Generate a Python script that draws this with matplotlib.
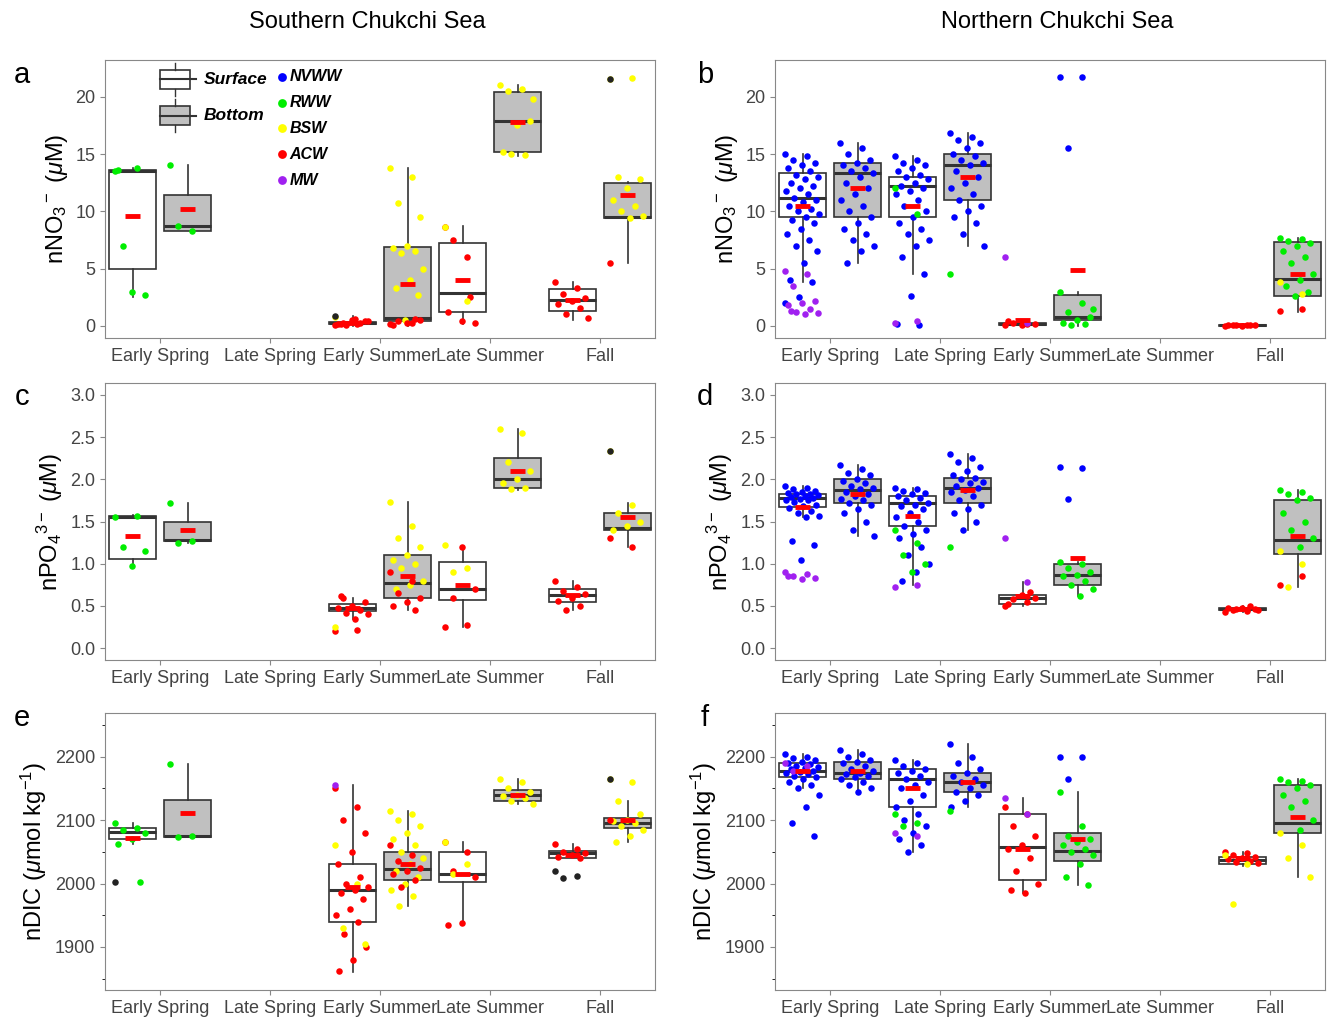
import matplotlib.pyplot as plt
from matplotlib.patches import Rectangle

plt.rcParams['font.family'] = ['Liberation Sans', 'DejaVu Sans']
plt.rcParams['mathtext.fontset'] = 'custom'
plt.rcParams['mathtext.rm'] = 'Liberation Sans'
plt.rcParams['mathtext.it'] = 'Liberation Sans:italic'

cats = ["Early Spring", "Late Spring", "Early Summer", "Late Summer", "Fall"]
col = {'b': '#0000ff', 'g': '#00ee00', 'y': '#ffff00', 'r': '#ff0000', 'p': '#a020f0', 'k': '#222222'}

# box stats: (category, kind s=surface/b=bottom, q1, med, q3, whislo, whishi, mean)
a_box = [(1,'s',5,13.5,13.6,2.5,13.8,9.6),(1,'b',8.3,8.7,11.4,8.3,14,10.2),
         (3,'s',0.2,0.3,0.35,0,0.9,0.3),(3,'b',0.4,0.7,6.9,0,13.8,3.7),
         (4,'s',1.2,2.9,7.2,0.2,8.7,4.0),(4,'b',15.2,17.9,20.4,14.8,21,17.8),
         (5,'s',1.3,2.3,3.2,0.5,3.8,2.3),(5,'b',9.4,9.5,12.5,5.5,12.6,11.4)]
a_pts = [(1,'s','g',[13.5,13.8,7,2.7,3.0,13.6]),(1,'b','g',[14,8.3,8.7]),
         (3,'s','r',[0.1,0.2,0.3,0.4,0.5,0.2,0.3,0.1,0.4,0.6,0.2]),(3,'s','y',[0.8]),(3,'s','k',[0.9]),
         (3,'b','y',[13.8,13,10.7,9.5,7,6.8,6.5,6.4,5,4,3.3,2.7,0.5]),(3,'b','r',[0.2,0.3,0.4,0.5,0.3,0.1,0.6]),
         (4,'s','r',[8.6,6,7.5,0.3,0.4,1.2,2.5]),(4,'s','y',[8.6,2.2]),
         (4,'b','y',[21,20.7,20.5,17.9,17.5,15.2,14.9,15,19.8]),
         (5,'s','r',[3.8,3.3,2.8,2.4,2.2,1.9,1.6,1,0.7]),
         (5,'b','y',[21.5,21.6,13,12.8,12,11,10.5,10,9.6,9.4]),(5,'b','r',[5.5]),(5,'b','k',[21.5])]

b_box = [(1,'s',9.5,11.2,13.3,3.8,15,10.5),(1,'b',9.5,13.3,14.2,5.5,16,12.0),
         (2,'s',9.5,12.2,13.0,4.5,14.8,10.5),(2,'b',11,14,15,7,16.8,13.0),
         (3,'s',0.1,0.2,0.3,0,0.5,0.5),(3,'b',0.5,0.8,2.7,0,3,4.9),
         (5,'s',0,0.05,0.1,0,0.15,0.05),(5,'b',2.6,4.1,7.3,1.2,7.7,4.5)]
b_pts = [(1,'s','b',[15,14.8,14.5,14.2,14,13.8,13.5,13.2,13,12.8,12.5,12.2,12,11.8,11.5,11.2,11,10.8,10.5,10.2,10,9.8,9.5,9.2,9,8.5,8,7.5,7,6.5,5.5,4,3.8,2.5,2]),
         (1,'s','p',[4.8,4.5,3.5,2.2,2,1.8,1.5,1.2,1.1,1.0,1.3]),
         (1,'b','b',[16,15.5,15,14.5,14.2,14,13.8,13.5,13.3,13,12.5,12,11.5,11,10.5,10,9.5,9,8.5,8,7.5,7,6.5,5.5]),
         (2,'s','b',[14.8,14.5,14.2,14,13.8,13.5,13.2,13,12.8,12.5,12.2,12,11.8,11.5,11,10.5,10,9.5,9,8.5,8,7.5,7,6,4.5,2.6,0.2,0.1]),
         (2,'s','p',[0.3,0.4]),(2,'s','g',[12,9.8]),
         (2,'b','b',[16.8,16.5,16.2,16,15.5,15,14.8,14.5,14.2,14,13.5,13,12.5,12,11.5,11,10.5,10,9.5,9,8,7]),(2,'b','g',[4.5]),
         (3,'s','r',[0.1,0.2,0.3,0.2,0.1,0.4]),(3,'s','p',[6,0.3]),
         (3,'b','g',[3,2,1.2,0.8,0.5,0.3,0.2,0.1,1.5]),(3,'b','b',[21.7,21.7,15.5]),
         (5,'s','r',[0,0.05,0.1,0.05,0,0.1,0.05,0.1]),
         (5,'b','g',[7.7,7.6,7.4,7.2,7,6.5,6,5.5,4.5,4,3.5,3,2.6]),(5,'b','y',[3.8,2.8]),(5,'b','r',[1.3,1.5])]

c_box = [(1,'s',1.06,1.55,1.57,0.95,1.58,1.33),(1,'b',1.27,1.28,1.49,1.25,1.72,1.4),
         (3,'s',0.44,0.48,0.52,0.35,0.6,0.48),(3,'b',0.6,0.77,1.1,0.45,1.73,0.85),
         (4,'s',0.57,0.7,1.02,0.25,1.2,0.75),(4,'b',1.9,2.0,2.25,1.87,2.6,2.1),
         (5,'s',0.55,0.63,0.7,0.45,0.8,0.63),(5,'b',1.4,1.42,1.6,1.2,1.72,1.55)]
c_pts = [(1,'s','g',[1.55,1.57,1.2,1.15,0.97]),(1,'b','g',[1.72,1.27,1.25]),
         (3,'s','r',[0.2,0.22,0.6,0.55,0.5,0.48,0.45,0.42,0.4,0.35,0.62]),(3,'s','y',[0.25]),
         (3,'b','y',[1.73,1.45,1.3,1.2,1.1,1.05,1.0,0.95,0.8,0.75,0.7]),(3,'b','r',[0.9,0.8,0.65,0.6,0.55,0.5,0.45]),
         (4,'s','r',[0.25,0.27,0.6,0.7,1.2]),(4,'s','y',[1.22,0.95,0.9]),
         (4,'b','y',[2.6,2.55,2.2,2.1,2.0,1.95,1.9,1.88]),
         (5,'s','r',[0.8,0.72,0.68,0.64,0.6,0.56,0.5,0.45]),
         (5,'b','y',[2.33,1.7,1.6,1.5,1.45,1.4]),(5,'b','r',[1.3,1.2]),(5,'b','k',[2.33])]

d_box = [(1,'s',1.67,1.78,1.82,1.55,1.92,1.67),(1,'b',1.72,1.87,2.0,1.33,2.17,1.82),
         (2,'s',1.45,1.72,1.8,0.75,1.9,1.57),(2,'b',1.72,1.9,2.02,1.4,2.3,1.87),
         (3,'s',0.52,0.59,0.63,0.5,0.78,0.62),(3,'b',0.75,0.87,1.0,0.62,1.02,1.07),
         (5,'s',0.45,0.46,0.48,0.43,0.5,0.46),(5,'b',1.12,1.28,1.75,0.72,1.87,1.33)]
d_pts = [(1,'s','b',[1.92,1.9,1.88,1.86,1.85,1.84,1.83,1.82,1.81,1.8,1.79,1.78,1.77,1.76,1.75,1.73,1.7,1.68,1.66,1.63,1.6,1.57,1.55,1.27,1.22,1.05]),
         (1,'s','p',[0.9,0.88,0.85,0.83,0.82,0.86]),
         (1,'b','b',[2.17,2.12,2.08,2.05,2.0,1.98,1.95,1.92,1.9,1.88,1.85,1.82,1.8,1.77,1.75,1.72,1.7,1.65,1.6,1.5,1.4,1.33]),
         (2,'s','b',[1.9,1.88,1.86,1.84,1.82,1.8,1.78,1.75,1.72,1.7,1.68,1.65,1.6,1.55,1.5,1.45,1.4,1.35,1.3,1.2,1.1,1.0,0.9,0.8]),
         (2,'s','g',[1.4,1.25,1.1,1.0,0.9]),(2,'s','p',[0.72,0.75]),
         (2,'b','b',[2.3,2.25,2.2,2.15,2.1,2.05,2.02,2.0,1.97,1.95,1.92,1.9,1.87,1.85,1.8,1.75,1.7,1.65,1.6,1.5,1.4]),(2,'b','g',[1.2]),
         (3,'s','r',[0.5,0.55,0.58,0.6,0.63,0.52,0.66]),(3,'s','p',[1.3,0.78]),
         (3,'b','g',[1.02,1.0,0.95,0.9,0.87,0.85,0.8,0.75,0.7,0.62]),(3,'b','b',[2.15,2.13,1.77]),
         (5,'s','r',[0.43,0.44,0.45,0.46,0.47,0.48,0.5,0.46,0.45]),
         (5,'b','g',[1.87,1.85,1.82,1.78,1.75,1.6,1.5,1.4,1.3,1.2]),(5,'b','y',[1.15,1.0,0.72]),(5,'b','r',[0.75,0.85])]

e_box = [(1,'s',2070,2082,2087,2062,2095,2072),(1,'b',2073,2075,2131,2073,2188,2111),
         (3,'s',1940,1990,2030,1860,2155,1995),(3,'b',2005,2023,2050,1965,2115,2030),
         (4,'s',2003,2015,2050,1935,2065,2015),(4,'b',2130,2140,2147,2125,2165,2140),
         (5,'s',2040,2048,2052,2040,2062,2045),(5,'b',2087,2095,2103,2065,2130,2100)]
e_pts = [(1,'s','g',[2095,2088,2085,2080,2070,2062,2003]),(1,'s','k',[2003]),(1,'b','g',[2188,2075,2073]),
         (3,'s','r',[2150,2120,2100,2080,2050,2030,2010,2000,1995,1990,1985,1975,1960,1950,1940,1920,1900,1880,1862]),
         (3,'s','y',[2060,2000,1930,1905]),(3,'s','p',[2155]),
         (3,'b','y',[2115,2110,2100,2090,2080,2070,2060,2050,2040,2030,2020,2010,2000,1990,1980,1965]),
         (3,'b','r',[2060,2045,2035,2025,2020,2015,2005,1995]),
         (4,'s','r',[2065,2050,2020,2010,1938,1935]),(4,'s','y',[2065,2030,2015]),
         (4,'b','y',[2165,2160,2150,2145,2140,2138,2135,2130,2125]),
         (5,'s','r',[2062,2055,2050,2048,2045,2042,2040]),(5,'s','k',[2020,2012,2008]),
         (5,'b','y',[2165,2160,2130,2110,2100,2098,2095,2090,2085,2075,2065]),(5,'b','r',[2100]),(5,'b','k',[2165])]

f_box = [(1,'s',2168,2178,2190,2150,2205,2178),(1,'b',2165,2175,2192,2145,2210,2178),
         (2,'s',2120,2165,2180,2050,2195,2150),(2,'b',2145,2160,2175,2120,2220,2160),
         (3,'s',2005,2058,2110,1985,2135,2055),(3,'b',2035,2052,2080,1998,2145,2070),
         (5,'s',2030,2037,2042,2028,2050,2040),(5,'b',2080,2095,2155,2010,2165,2105)]
f_pts = [(1,'s','b',[2205,2200,2198,2195,2192,2190,2188,2186,2184,2182,2180,2178,2176,2174,2172,2170,2168,2165,2160,2155,2150,2140,2120,2095,2075]),
         (1,'s','p',[2190,2185,2178]),
         (1,'b','b',[2210,2205,2200,2195,2192,2190,2185,2180,2178,2175,2172,2170,2168,2165,2160,2155,2150,2145]),
         (2,'s','b',[2195,2190,2185,2180,2178,2175,2170,2165,2160,2155,2150,2140,2130,2120,2110,2100,2090,2080,2070,2060,2050]),
         (2,'s','g',[2110,2095,2090]),(2,'s','p',[2080,2075]),
         (2,'b','b',[2220,2200,2190,2180,2175,2170,2165,2160,2155,2150,2145,2140,2130,2120]),(2,'b','g',[2115]),
         (3,'s','r',[2120,2110,2090,2075,2060,2055,2040,2020,2000,1985,1990]),(3,'s','p',[2135,2110]),
         (3,'b','g',[2145,2090,2075,2070,2065,2060,2055,2050,2045,2030,2010,1998]),(3,'b','b',[2200,2200,2165]),
         (5,'s','r',[2050,2048,2045,2042,2040,2038,2036,2034,2032]),(5,'s','y',[2045,2030,1968]),
         (5,'b','g',[2165,2162,2160,2155,2150,2140,2130,2120,2100,2085]),(5,'b','y',[2080,2060,2040,2010])]

W, H = 1328, 1017
fig = plt.figure(figsize=(W/100, H/100), dpi=100)

def make_ax(x0, top, bot):
    return fig.add_axes([x0/W, 1-bot/H, 550/W, (bot-top)/H])

def draw(ax, boxes, pts, ylim, yticks, ylabel):
    off = {'s': -0.25, 'b': 0.25}
    for c, k, q1, med, q3, lo, hi, mean in boxes:
        x = c + off[k]
        fc = 'white' if k == 's' else '#c0c0c0'
        ax.bxp([dict(q1=q1, med=med, q3=q3, whislo=lo, whishi=hi, fliers=[])], positions=[x],
               widths=0.42, showcaps=False, patch_artist=True, manage_ticks=False,
               boxprops=dict(facecolor=fc, edgecolor='#333333', lw=1.2),
               medianprops=dict(color='#333333', lw=2.2),
               whiskerprops=dict(color='#333333', lw=1.2), zorder=2)
    for c, k, cl, vals in pts:
        x = c + off[k]
        for i, v in enumerate(vals):
            j = ((i * 0.618) % 1 - 0.5) * 0.32
            ax.scatter(x + j, v, s=22, color=col[cl], zorder=3, lw=0)
    for c, k, q1, med, q3, lo, hi, mean in boxes:
        x = c + off[k]
        ax.plot([x-0.07, x+0.07], [mean, mean], color='red', lw=3.5, zorder=4, solid_capstyle='butt')
    ax.set_xlim(0.5, 5.5)
    ax.set_ylim(*ylim)
    ax.set_xticks(range(1, 6))
    ax.set_xticklabels(cats)
    ax.set_yticks(yticks)
    ax.set_ylabel(ylabel, fontsize=17)
    ax.tick_params(labelsize=13, labelcolor='#444444', color='#888888')
    for s in ax.spines.values():
        s.set_color('#888888')

no3_ticks = [0, 5, 10, 15, 20]
po4_ticks = [0, 0.5, 1.0, 1.5, 2.0, 2.5, 3.0]
dic_ticks = [1900, 2000, 2100, 2200]
ylab1 = r'nNO$_3$$^-$ ($\mathit{\mu}$M)'
ylab2 = r'nPO$_4$$^{3-}$ ($\mathit{\mu}$M)'
ylab3 = r'nDIC ($\mathit{\mu}$mol kg$^{-1}$)'

axa = make_ax(105, 60, 338); draw(axa, a_box, a_pts, (-1.05, 23.2), no3_ticks, ylab1)
axb = make_ax(775, 60, 338); draw(axb, b_box, b_pts, (-1.05, 23.2), no3_ticks, ylab1)
axc = make_ax(105, 383, 660); draw(axc, c_box, c_pts, (-0.14, 3.14), po4_ticks, ylab2)
axd = make_ax(775, 383, 660); draw(axd, d_box, d_pts, (-0.14, 3.14), po4_ticks, ylab2)
axe = make_ax(105, 713, 990); draw(axe, e_box, e_pts, (1832, 2269), dic_ticks, ylab3)
axf = make_ax(775, 713, 990); draw(axf, f_box, f_pts, (1832, 2269), dic_ticks, ylab3)
for ax in (axc, axd):
    ax.set_yticklabels(['0.0', '0.5', '1.0', '1.5', '2.0', '2.5', '3.0'])
for ax in (axe, axf):
    ax.set_yticks([1850, 1950, 2050, 2150, 2250], minor=True)

for lab, x, y in [('a', 22, 75), ('b', 705, 75), ('c', 22, 397), ('d', 705, 397), ('e', 22, 718), ('f', 705, 718)]:
    fig.text(x/W, 1-y/H, lab, fontsize=21, va='center', ha='center')
fig.text(367/W, 1-22/H, 'Southern Chukchi Sea', fontsize=17, ha='center', va='center')
fig.text(1057/W, 1-22/H, 'Northern Chukchi Sea', fontsize=17, ha='center', va='center')

# legend in panel a (axes fraction coordinates)
for yy, fc, txt in [(0.93, 'white', 'Surface'), (0.80, '#c0c0c0', 'Bottom')]:
    axa.add_patch(Rectangle((0.10, yy-0.035), 0.055, 0.07, transform=axa.transAxes, fc=fc, ec='#333333', lw=1.2, zorder=5))
    axa.plot([0.10, 0.165], [yy, yy], transform=axa.transAxes, color='#333333', lw=1.5, zorder=6)
    axa.plot([0.1275, 0.1275], [yy-0.06, yy-0.035], transform=axa.transAxes, color='#333333', lw=1, zorder=6)
    axa.plot([0.1275, 0.1275], [yy+0.035, yy+0.06], transform=axa.transAxes, color='#333333', lw=1, zorder=6)
    axa.text(0.18, yy, txt, transform=axa.transAxes, fontsize=12.5, fontweight='bold', fontstyle='italic', va='center')
for i, (cl, txt) in enumerate([('b', 'NVWW'), ('g', 'RWW'), ('y', 'BSW'), ('r', 'ACW'), ('p', 'MW')]):
    yy = 0.94 - i * 0.093
    axa.scatter(0.322, yy, s=40, color=col[cl], transform=axa.transAxes, lw=0, zorder=5)
    axa.text(0.335, yy, txt, transform=axa.transAxes, fontsize=11.5, fontweight='bold', fontstyle='italic', va='center')

fig.savefig('out.png', dpi=100)
